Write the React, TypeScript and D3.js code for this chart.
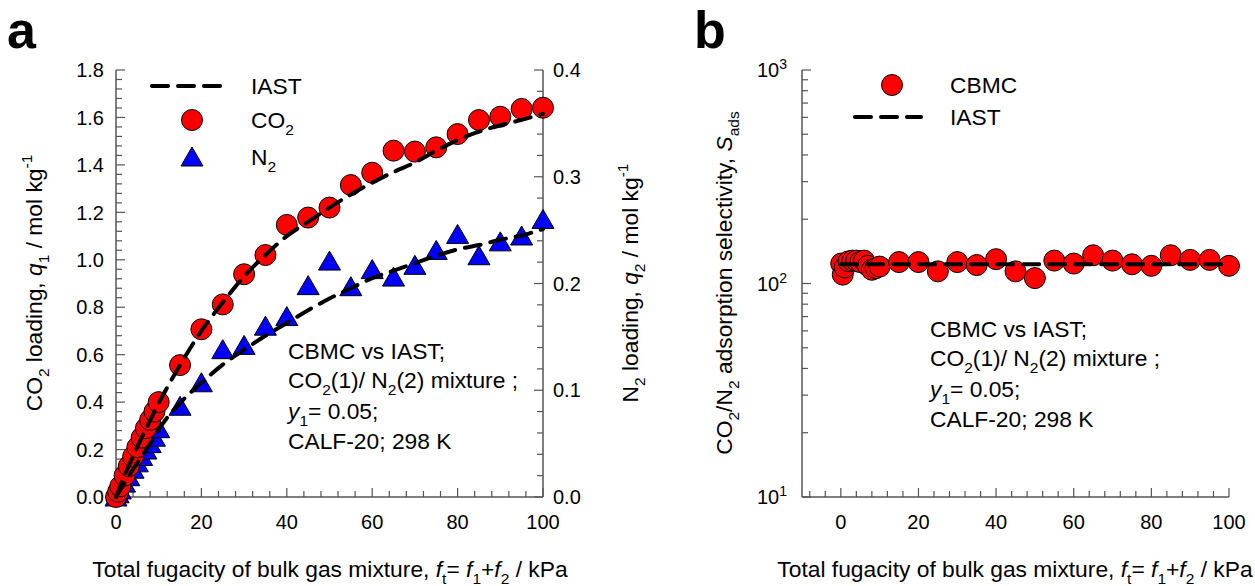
import React from 'react';
import * as d3 from 'd3';

// ---------- data ----------
const fugacity = [0, 0.5, 1, 2, 3, 4, 5, 6, 7, 8, 9, 10, 15, 20, 25, 30, 35, 40, 45, 50, 55, 60, 65, 70, 75, 80, 85, 90, 95, 100];
const co2CBMC = [0, 0.022, 0.045, 0.09, 0.13, 0.17, 0.21, 0.25, 0.29, 0.325, 0.36, 0.40, 0.556, 0.707, 0.812, 0.939, 1.02, 1.147, 1.178, 1.22, 1.315, 1.367, 1.46, 1.456, 1.474, 1.53, 1.589, 1.603, 1.636, 1.641];
const n2CBMC = [0, 0.003, 0.0066, 0.013, 0.019, 0.026, 0.032, 0.038, 0.044, 0.05, 0.056, 0.064, 0.085, 0.107, 0.138, 0.142, 0.16, 0.169, 0.198, 0.221, 0.197, 0.213, 0.206, 0.217, 0.231, 0.246, 0.226, 0.239, 0.2445, 0.26];
const co2IAST = [0, 0.022, 0.045, 0.09, 0.132, 0.172, 0.212, 0.25, 0.287, 0.323, 0.36, 0.395, 0.556, 0.7, 0.82, 0.93, 1.02, 1.1, 1.16, 1.22, 1.275, 1.325, 1.37, 1.41, 1.46, 1.505, 1.54, 1.567, 1.59, 1.615];
const n2IAST = [0, 0.0033, 0.0066, 0.013, 0.0195, 0.026, 0.032, 0.038, 0.044, 0.05, 0.056, 0.063, 0.088, 0.107, 0.124, 0.138, 0.151, 0.163, 0.175, 0.186, 0.1955, 0.205, 0.212, 0.219, 0.226, 0.232, 0.236, 0.241, 0.245, 0.251];

const selFugacity = [0.1, 0.5, 1, 2, 3, 4, 5, 6, 7, 8, 9, 10, 15, 20, 25, 30, 35, 40, 45, 50, 55, 60, 65, 70, 75, 80, 85, 90, 95, 100];
const selCBMC = [124, 110, 119, 127, 128, 128, 126, 128, 121, 116, 118, 120, 126, 126, 114, 126, 122, 130, 114, 106, 128, 124, 135.6, 128, 123, 121, 135.6, 129, 129, 121];
const selIASTFugacity = [0.1, 1, 5, 10, 20, 40, 60, 80, 100];
const selIAST = [123, 123, 123, 123, 123, 123, 123, 123, 123];

const xTickLabels = [0, 20, 40, 60, 80, 100];
const yLeftTickLabels = ['0.0', '0.2', '0.4', '0.6', '0.8', '1.0', '1.2', '1.4', '1.6', '1.8'];
const yRightTickLabels = ['0.0', '0.1', '0.2', '0.3', '0.4'];
const logTickExponents = [1, 2, 3];

// ---------- styling ----------
const FONT = "'Liberation Sans', Arial, Helvetica, sans-serif";
const AXIS = '#555';
const FS = 22.8;
const TFS = 20;

type Seg = { t: string; sub?: boolean; sup?: boolean; it?: boolean };

function rich(segs: Seg[], fs: number) {
  let cur = 0;
  return segs.map((s, i) => {
    const target = s.sub ? 0.3 * fs : s.sup ? -0.42 * fs : 0;
    const dy = target - cur;
    cur = target;
    return (
      <tspan
        key={i}
        dy={dy}
        fontSize={s.sub || s.sup ? fs * 0.68 : fs}
        fontStyle={s.it ? 'italic' : 'normal'}
      >
        {s.t}
      </tspan>
    );
  });
}

const triPath = (cx: number, cy: number) =>
  `M${cx},${cy - 10}L${cx + 11},${cy + 9}L${cx - 11},${cy + 9}Z`;

const DASH = { stroke: '#000', strokeWidth: 4, strokeDasharray: '16 10', strokeLinecap: 'round' as const, fill: 'none' };

const xTitle: Seg[] = [
  { t: 'Total fugacity of bulk gas mixture, ' },
  { t: 'f', it: true }, { t: 't', sub: true }, { t: '= ' },
  { t: 'f', it: true }, { t: '1', sub: true }, { t: '+' },
  { t: 'f', it: true }, { t: '2', sub: true }, { t: ' / kPa' },
];

const noteLines: Seg[][] = [
  [{ t: 'CBMC vs IAST;' }],
  [{ t: 'CO' }, { t: '2', sub: true }, { t: '(1)/ N' }, { t: '2', sub: true }, { t: '(2) mixture ;' }],
  [{ t: 'y', it: true }, { t: '1', sub: true }, { t: '= 0.05;' }],
  [{ t: 'CALF-20; 298 K' }],
];

export default function App() {
  const xA = d3.scaleLinear().domain([0, 100]).range([116, 543]);
  const yA = d3.scaleLinear().domain([0, 1.8]).range([497, 70]);
  const yA2 = d3.scaleLinear().domain([0, 0.4]).range([497, 70]);
  const xB = d3.scaleLinear().domain([-10, 100]).range([802, 1229]);
  const yB = d3.scaleLog().domain([10, 1000]).range([497, 70]);

  const lineCO2 = d3.line<number>().x((_, i) => xA(fugacity[i])).y((d) => yA(d)).curve(d3.curveMonotoneX);
  const lineN2 = d3.line<number>().x((_, i) => xA(fugacity[i])).y((d) => yA2(d)).curve(d3.curveMonotoneX);
  const lineSel = d3.line<number>().x((_, i) => xB(selIASTFugacity[i])).y((d) => yB(d));

  const xTicksA = d3.range(0, 101, 4);
  const yTicksA = d3.range(0, 46).map((i) => ({ v: i * 0.04, major: i % 5 === 0 }));
  const yTicksA2 = d3.range(0, 21).map((i) => ({ v: i * 0.02, major: i % 5 === 0 }));
  const xTicksB = d3.range(-8, 101, 4);
  const yTicksB: { v: number; major: boolean }[] = [];
  [10, 100].forEach((d) => d3.range(1, 10).forEach((k) => yTicksB.push({ v: k * d, major: k === 1 })));
  yTicksB.push({ v: 1000, major: true });

  const MAJ = 9;
  const MIN = 6;

  return (
    <svg
      width={1255}
      height={586}
      style={{ position: 'absolute', left: 0, top: 0, background: '#fff' }}
      fontFamily={FONT}
    >
      <rect x={0} y={0} width={1255} height={586} fill="#fff" />

      {/* panel labels */}
      <text x={7} y={48} fontSize={52} fontWeight="bold">a</text>
      <text x={694} y={48} fontSize={52} fontWeight="bold">b</text>

      {/* ================= Panel a ================= */}
      <g>
        <line x1={xA(0)} x2={xA(0)} y1={yA(0)} y2={yA(1.8)} stroke={AXIS} strokeWidth={1.5} />
        <line x1={xA(100)} x2={xA(100)} y1={yA(0)} y2={yA(1.8)} stroke={AXIS} strokeWidth={1.5} />
        <line x1={xA(0)} x2={xA(100)} y1={yA(0)} y2={yA(0)} stroke={AXIS} strokeWidth={1.5} />
        {xTicksA.map((v) => (
          <line key={'xa' + v} x1={xA(v)} x2={xA(v)} y1={yA(0)} y2={yA(0) - (v % 20 === 0 ? MAJ : MIN)} stroke={AXIS} strokeWidth={1.2} />
        ))}
        {xTickLabels.map((v) => (
          <text key={'xal' + v} x={xA(v)} y={529} fontSize={TFS} textAnchor="middle">{v}</text>
        ))}
        {yTicksA.map((t, i) => (
          <line key={'ya' + i} x1={xA(0)} x2={xA(0) + (t.major ? MAJ : MIN)} y1={yA(t.v)} y2={yA(t.v)} stroke={AXIS} strokeWidth={1.2} />
        ))}
        {yLeftTickLabels.map((l) => (
          <text key={'yal' + l} x={104} y={yA(+l)} dy="0.36em" fontSize={TFS} textAnchor="end">{l}</text>
        ))}
        {yTicksA2.map((t, i) => (
          <line key={'ya2' + i} x1={xA(100)} x2={xA(100) - (t.major ? MAJ : MIN)} y1={yA2(t.v)} y2={yA2(t.v)} stroke={AXIS} strokeWidth={1.2} />
        ))}
        {yRightTickLabels.map((l) => (
          <text key={'ya2l' + l} x={553} y={yA2(+l)} dy="0.36em" fontSize={TFS} textAnchor="start">{l}</text>
        ))}

        {n2CBMC.map((q, i) => (
          <path key={'n2' + i} d={triPath(xA(fugacity[i]), yA2(q))} fill="#0000ff" stroke="#000" strokeWidth={1} />
        ))}
        {co2CBMC.map((q, i) => (
          <circle key={'co2' + i} cx={xA(fugacity[i])} cy={yA(q)} r={10.5} fill="#ff0000" stroke="#000" strokeWidth={1} />
        ))}
        <path d={lineCO2(co2IAST) || ''} {...DASH} />
        <path d={lineN2(n2IAST) || ''} {...DASH} />

        <line x1={152} x2={220} y1={86} y2={86} {...DASH} />
        <text x={251} y={94} fontSize={FS}>IAST</text>
        <circle cx={192} cy={120} r={10.5} fill="#ff0000" stroke="#000" strokeWidth={1} />
        <text x={251} y={128} fontSize={FS}>{rich([{ t: 'CO' }, { t: '2', sub: true }], FS)}</text>
        <path d={triPath(192, 157)} fill="#0000ff" stroke="#000" strokeWidth={1} />
        <text x={251} y={165} fontSize={FS}>{rich([{ t: 'N' }, { t: '2', sub: true }], FS)}</text>

        {noteLines.map((segs, i) => (
          <text key={'na' + i} x={288} y={[359, 388, 419, 449][i]} fontSize={FS}>{rich(segs, FS)}</text>
        ))}

        <text x={330} y={577} fontSize={FS} textAnchor="middle">{rich(xTitle, FS)}</text>
        <text transform="translate(42,283) rotate(-90)" fontSize={FS} textAnchor="middle">
          {rich([
            { t: 'CO' }, { t: '2', sub: true }, { t: ' loading, ' },
            { t: 'q', it: true }, { t: '1', sub: true }, { t: ' / mol kg' }, { t: '-1', sup: true },
          ], FS)}
        </text>
        <text transform="translate(638,283) rotate(-90)" fontSize={FS} textAnchor="middle">
          {rich([
            { t: 'N' }, { t: '2', sub: true }, { t: ' loading, ' },
            { t: 'q', it: true }, { t: '2', sub: true }, { t: ' / mol kg' }, { t: '-1', sup: true },
          ], FS)}
        </text>
      </g>

      {/* ================= Panel b ================= */}
      <g>
        <line x1={xB(-10)} x2={xB(-10)} y1={yB(10)} y2={yB(1000)} stroke={AXIS} strokeWidth={1.5} />
        <line x1={xB(-10)} x2={xB(100)} y1={yB(10)} y2={yB(10)} stroke={AXIS} strokeWidth={1.5} />
        {xTicksB.map((v) => (
          <line key={'xb' + v} x1={xB(v)} x2={xB(v)} y1={yB(10)} y2={yB(10) - (v % 20 === 0 ? MAJ : MIN)} stroke={AXIS} strokeWidth={1.2} />
        ))}
        {xTickLabels.map((v) => (
          <text key={'xbl' + v} x={xB(v)} y={529} fontSize={TFS} textAnchor="middle">{v}</text>
        ))}
        {yTicksB.map((t, i) => (
          <line key={'yb' + i} x1={xB(-10)} x2={xB(-10) + (t.major ? MAJ : MIN)} y1={yB(t.v)} y2={yB(t.v)} stroke={AXIS} strokeWidth={1.2} />
        ))}
        {logTickExponents.map((e) => (
          <text key={'ybl' + e} x={787} y={yB(Math.pow(10, e)) + 7} fontSize={TFS} textAnchor="end">
            10<tspan dy={-8} fontSize={14}>{e}</tspan>
          </text>
        ))}

        {selCBMC.map((s, i) => (
          <circle key={'s' + i} cx={xB(selFugacity[i])} cy={yB(s)} r={10.5} fill="#ff0000" stroke="#000" strokeWidth={1} />
        ))}
        <path d={lineSel(selIAST) || ''} {...DASH} />

        <circle cx={892} cy={85} r={10.5} fill="#ff0000" stroke="#000" strokeWidth={1} />
        <text x={950} y={93} fontSize={FS}>CBMC</text>
        <line x1={855} x2={921} y1={117} y2={117} {...DASH} />
        <text x={950} y={125} fontSize={FS}>IAST</text>

        {noteLines.map((segs, i) => (
          <text key={'nb' + i} x={930} y={[337, 366, 397, 427][i]} fontSize={FS}>{rich(segs, FS)}</text>
        ))}

        <text x={1015} y={577} fontSize={FS} textAnchor="middle">{rich(xTitle, FS)}</text>
        <text transform="translate(732,283) rotate(-90)" fontSize={FS} textAnchor="middle">
          {rich([
            { t: 'CO' }, { t: '2', sub: true }, { t: '/N' }, { t: '2', sub: true },
            { t: ' adsorption selectivity, ' }, { t: 'S', it: true }, { t: 'ads', sub: true },
          ], FS)}
        </text>
      </g>
    </svg>
  );
}
